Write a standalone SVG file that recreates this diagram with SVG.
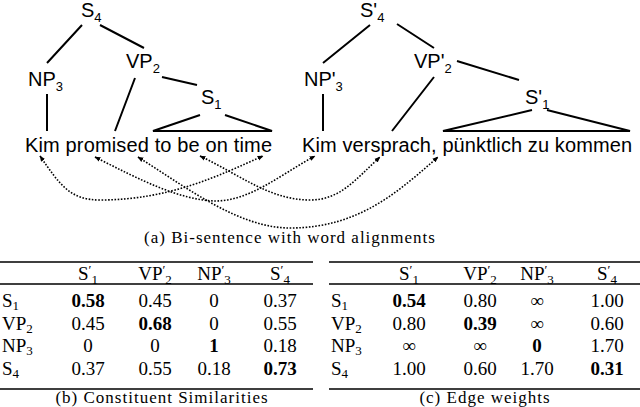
<svg xmlns="http://www.w3.org/2000/svg" width="640" height="407" viewBox="0 0 640 407">
<style>
.t{font-family:"Liberation Sans",Arial,sans-serif;font-size:20px;fill:#000}
.s{font-size:13px}
.e{stroke:#000;stroke-width:2;fill:none}
.a{stroke:#000;stroke-width:1.6;fill:none;stroke-dasharray:1.6 1.6;marker-start:url(#h);marker-end:url(#h)}
.m{font-family:"Liberation Serif","Times New Roman",serif;font-size:19px;fill:#000}
.c{font-size:17px;letter-spacing:1px}
.b{font-weight:bold}
.r{stroke:#000;stroke-width:1.5}
</style>
<defs>
<marker id="h" viewBox="0 0 10 10" refX="9" refY="5" markerWidth="6" markerHeight="6" orient="auto-start-reverse" markerUnits="userSpaceOnUse"><path d="M0,1 L10,5 L0,9 z" fill="#000"/></marker>
</defs>
<g id="tree-en">
<text class="t" x="81" y="17">S<tspan class="s" dy="5">4</tspan></text>
<text class="t" x="28" y="86">NP<tspan class="s" dy="5">3</tspan></text>
<text class="t" x="126" y="68">VP<tspan class="s" dy="5">2</tspan></text>
<text class="t" x="201" y="104">S<tspan class="s" dy="5">1</tspan></text>
<text class="t" x="25" y="152" textLength="247">Kim promised to be on time</text>
<path class="e" d="M82,25L47,63M100,25L144,48M47,94L47,131M135,78L115,131M162,77L197,85M200,115L153,131L272,131L225,115"/>
</g>
<g id="tree-de">
<text class="t" x="360" y="17">S'<tspan class="s" dy="5">4</tspan></text>
<text class="t" x="304" y="86">NP'<tspan class="s" dy="5">3</tspan></text>
<text class="t" x="414" y="68">VP'<tspan class="s" dy="5">2</tspan></text>
<text class="t" x="525" y="104">S'<tspan class="s" dy="5">1</tspan></text>
<text class="t" x="302" y="152" textLength="330">Kim versprach, pünktlich zu kommen</text>
<path class="e" d="M370,25L323,63M397,24L434,48M323,94L323,131M434,77L392,131M457,61L519,80M532,110L443,131L630,131L547,110"/>
</g>
<g id="connectors">
<path class="a" d="M40,156C60,185 70,200 100,200C170,200 220,175 263,156"/>
<path class="a" d="M95,157C140,180 180,200 215,201C250,201 280,175 315,156"/>
<path class="a" d="M138,157C190,190 240,228 290,228C360,228 400,190 438,157"/>
<path class="a" d="M200,156C240,175 270,200 310,200C340,200 355,180 380,157"/>
</g>
<text class="m c" x="290" y="243" text-anchor="middle">(a) Bi-sentence with word alignments</text>
<g id="table-b">
<path class="r" d="M0,262H313M0,284H313M0,389H313"/>
<g class="m" text-anchor="middle">
<text x="88" y="280">S<tspan font-size="13" dy="-6">′</tspan><tspan font-size="13" dy="10">1</tspan></text>
<text x="155" y="280">VP<tspan font-size="13" dy="-6">′</tspan><tspan font-size="13" dy="10">2</tspan></text>
<text x="214" y="280">NP<tspan font-size="13" dy="-6">′</tspan><tspan font-size="13" dy="10">3</tspan></text>
<text x="280" y="280">S<tspan font-size="13" dy="-6">′</tspan><tspan font-size="13" dy="10">4</tspan></text>
</g>
<g class="m">
<text x="2" y="307">S<tspan font-size="13" dy="3">1</tspan></text>
<text x="2" y="330">VP<tspan font-size="13" dy="3">2</tspan></text>
<text x="2" y="352">NP<tspan font-size="13" dy="3">3</tspan></text>
<text x="2" y="375">S<tspan font-size="13" dy="3">4</tspan></text>
</g>
<g class="m" text-anchor="middle">
<text x="88" y="307" class="m b">0.58</text><text x="155" y="307">0.45</text><text x="214" y="307">0</text><text x="280" y="307">0.37</text>
<text x="88" y="330">0.45</text><text x="155" y="330" class="m b">0.68</text><text x="214" y="330">0</text><text x="280" y="330">0.55</text>
<text x="88" y="352">0</text><text x="155" y="352">0</text><text x="214" y="352" class="m b">1</text><text x="280" y="352">0.18</text>
<text x="88" y="375">0.37</text><text x="155" y="375">0.55</text><text x="214" y="375">0.18</text><text x="280" y="375" class="m b">0.73</text>
</g>
<text class="m c" x="162" y="403" text-anchor="middle">(b) Constituent Similarities</text>
</g>
<g id="table-c">
<path class="r" d="M329,262H640M329,284H640M329,389H640"/>
<g class="m" text-anchor="middle">
<text x="409" y="280">S<tspan font-size="13" dy="-6">′</tspan><tspan font-size="13" dy="10">1</tspan></text>
<text x="480" y="280">VP<tspan font-size="13" dy="-6">′</tspan><tspan font-size="13" dy="10">2</tspan></text>
<text x="537" y="280">NP<tspan font-size="13" dy="-6">′</tspan><tspan font-size="13" dy="10">3</tspan></text>
<text x="607" y="280">S<tspan font-size="13" dy="-6">′</tspan><tspan font-size="13" dy="10">4</tspan></text>
</g>
<g class="m">
<text x="331" y="307">S<tspan font-size="13" dy="3">1</tspan></text>
<text x="331" y="330">VP<tspan font-size="13" dy="3">2</tspan></text>
<text x="331" y="352">NP<tspan font-size="13" dy="3">3</tspan></text>
<text x="331" y="375">S<tspan font-size="13" dy="3">4</tspan></text>
</g>
<g class="m" text-anchor="middle">
<text x="409" y="307" class="m b">0.54</text><text x="480" y="307">0.80</text><text x="537" y="307">∞</text><text x="607" y="307">1.00</text>
<text x="409" y="330">0.80</text><text x="480" y="330" class="m b">0.39</text><text x="537" y="330">∞</text><text x="607" y="330">0.60</text>
<text x="409" y="352">∞</text><text x="480" y="352">∞</text><text x="537" y="352" class="m b">0</text><text x="607" y="352">1.70</text>
<text x="409" y="375">1.00</text><text x="480" y="375">0.60</text><text x="537" y="375">1.70</text><text x="607" y="375" class="m b">0.31</text>
</g>
<text class="m c" x="485" y="403" text-anchor="middle">(c) Edge weights</text>
</g>
</svg>
